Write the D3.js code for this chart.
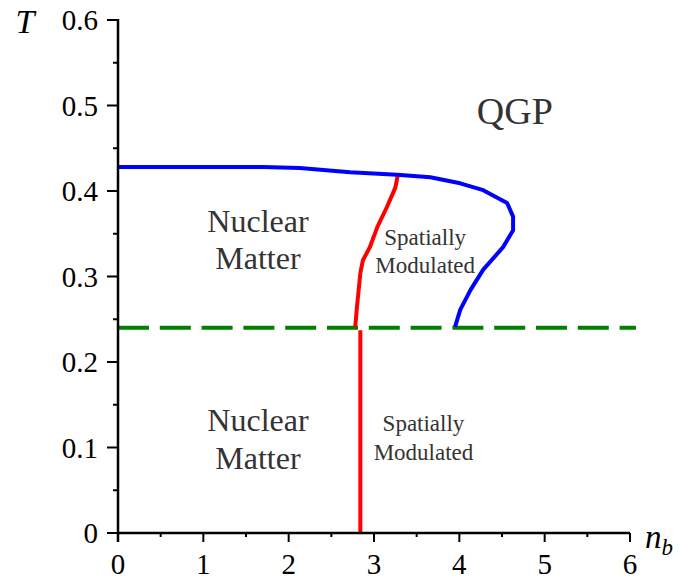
<!DOCTYPE html>
<html>
<head>
<meta charset="utf-8">
<script src="https://cdn.jsdelivr.net/npm/d3@7"></script>
<style>
  body { margin: 0; background: #fff; }
  svg { display: block; }
</style>
</head>
<body>
<svg id="chart"></svg>
<script>
const W = 681, H = 581
const margin = {top: 20, right: 51, bottom: 48, left: 118}
const fontList = "Liberation Serif, Tinos, FreeSerif, serif"

// axis ticks
const xTicks = [0, 1, 2, 3, 4, 5, 6]
const xMinor = [0.5, 1.5, 2.5, 3.5, 4.5, 5.5]
const yTicks = [0, 0.1, 0.2, 0.3, 0.4, 0.5, 0.6]
const yMinor = [0.05, 0.15, 0.25, 0.35, 0.45, 0.55]

// blue boundary (n_b, T)
const blueBoundary = [
  [0, 0.428], [1.70, 0.428], [2.13, 0.427], [2.72, 0.422], [3.27, 0.419],
  [3.66, 0.416], [4.01, 0.409], [4.28, 0.401], [4.56, 0.386], [4.63, 0.370],
  [4.63, 0.354], [4.51, 0.334], [4.28, 0.308], [4.13, 0.284], [4.01, 0.261],
  [3.95, 0.241]
]
// red boundary above the dashed line
const redUpper = [
  [2.78, 0.241], [2.80, 0.264], [2.84, 0.304], [2.87, 0.319], [2.95, 0.334],
  [3.04, 0.358], [3.15, 0.381], [3.25, 0.404], [3.28, 0.419]
]
// red boundary below the dashed line
const redLower = [[2.84, 0], [2.84, 0.237]]
// green dashed line
const greenLine = [[0, 0.24], [6.07, 0.24]]

const regionLabels = [
  {lines: ["QGP"], x: 4.65, y: 0.478, size: 38, gap: 0},
  {lines: ["Nuclear", "Matter"], x: 1.64, y: 0.352, size: 32, gap: 37},
  {lines: ["Spatially", "Modulated"], x: 3.6, y: 0.337, size: 23, gap: 28},
  {lines: ["Nuclear", "Matter"], x: 1.64, y: 0.119, size: 32, gap: 38},
  {lines: ["Spatially", "Modulated"], x: 3.58, y: 0.119, size: 23, gap: 29}
]

const chart = d3.select("#chart").attr("width", W).attr("height", H)

const sx = d3.scaleLinear().domain([0, 6]).range([margin.left, W - margin.right])
const sy = d3.scaleLinear().domain([0, 0.6]).range([H - margin.bottom, margin.top])

const path = d3.line().x(d => sx(d[0])).y(d => sy(d[1]))

chart.append("path").datum(greenLine).attr("d", path)
  .attr("fill", "none").attr("stroke", "#008000").attr("stroke-width", 4)
  .attr("stroke-dasharray", "31,10.8")

chart.append("path").datum(redLower).attr("d", path)
  .attr("fill", "none").attr("stroke", "#ff0000").attr("stroke-width", 4)

chart.append("path").datum(redUpper).attr("d", path)
  .attr("fill", "none").attr("stroke", "#ff0000").attr("stroke-width", 4)
  .attr("stroke-linejoin", "round")

chart.append("path").datum(blueBoundary).attr("d", path)
  .attr("fill", "none").attr("stroke", "#0000ff").attr("stroke-width", 4)
  .attr("stroke-linejoin", "round")

// axis lines
chart.append("line").attr("x1", sx(0)).attr("x2", sx(6)).attr("y1", sy(0)).attr("y2", sy(0))
  .attr("stroke", "#000").attr("stroke-width", 2.5)
chart.append("line").attr("x1", sx(0)).attr("x2", sx(0)).attr("y1", sy(0) + 9).attr("y2", sy(0.6) - 1)
  .attr("stroke", "#000").attr("stroke-width", 2.5)

// x ticks
chart.selectAll("line.xmajor").data(xTicks).join("line").attr("class", "xmajor")
  .attr("x1", d => sx(d)).attr("x2", d => sx(d)).attr("y1", sy(0)).attr("y2", sy(0) + 9)
  .attr("stroke", "#000").attr("stroke-width", 2)
chart.selectAll("line.xminor").data(xMinor).join("line").attr("class", "xminor")
  .attr("x1", d => sx(d)).attr("x2", d => sx(d)).attr("y1", sy(0) - 1).attr("y2", sy(0) + 4)
  .attr("stroke", "#000").attr("stroke-width", 2)
chart.selectAll("text.xlabel").data(xTicks).join("text").attr("class", "xlabel")
  .attr("x", d => sx(d)).attr("y", 574).attr("text-anchor", "middle")
  .attr("font-size", 29).style("font-family", fontList)
  .text(d => d3.format("d")(d))

// y ticks
chart.selectAll("line.ymajor").data(yTicks).join("line").attr("class", "ymajor")
  .attr("x1", sx(0) - 11).attr("x2", sx(0)).attr("y1", d => sy(d)).attr("y2", d => sy(d))
  .attr("stroke", "#000").attr("stroke-width", 2)
chart.selectAll("line.yminor").data(yMinor).join("line").attr("class", "yminor")
  .attr("x1", sx(0) - 5).attr("x2", sx(0)).attr("y1", d => sy(d)).attr("y2", d => sy(d))
  .attr("stroke", "#000").attr("stroke-width", 2)
chart.selectAll("text.ylabel").data(yTicks).join("text").attr("class", "ylabel")
  .attr("x", sx(0) - 20).attr("y", d => sy(d) + 10).attr("text-anchor", "end")
  .attr("font-size", 29).style("font-family", fontList)
  .text(d => d === 0 ? "0" : d3.format(".1f")(d))

// axis titles
chart.append("text").text("T").attr("x", 25).attr("y", 33)
  .attr("text-anchor", "middle").attr("font-size", 34).attr("font-style", "italic")
  .style("font-family", fontList)
const nb = chart.append("text").attr("x", 645).attr("y", 548).attr("font-size", 33)
  .attr("font-style", "italic").style("font-family", fontList)
nb.append("tspan").text("n")
nb.append("tspan").text("b").attr("font-size", 23).attr("dy", 7)

// region labels
regionLabels.forEach(lab => {
  const t = chart.append("text").attr("text-anchor", "middle")
    .attr("font-size", lab.size).attr("fill", "#333")
    .style("font-family", fontList)
  lab.lines.forEach((s, i) => {
    t.append("tspan").text(s).attr("x", sx(lab.x)).attr("y", sy(lab.y) + i * lab.gap)
  })
})
</script>
</body>
</html>
